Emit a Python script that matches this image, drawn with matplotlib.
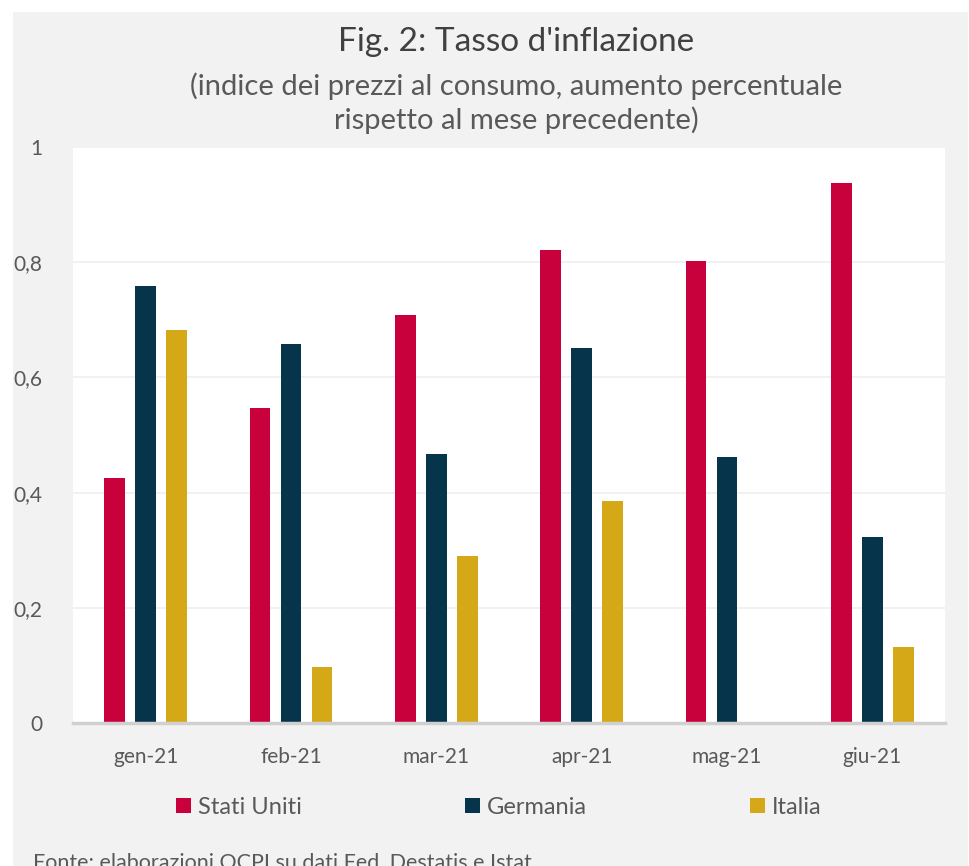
import numpy as np
import matplotlib.pyplot as plt
from matplotlib.patches import Rectangle

# dati
mesi = ["gen-21", "feb-21", "mar-21", "apr-21", "mag-21", "giu-21"]
stati_uniti = [0.425, 0.547, 0.708, 0.821, 0.802, 0.937]
germania = [0.759, 0.658, 0.467, 0.651, 0.462, 0.323]
italia = [0.682, 0.097, 0.290, 0.385, 0.0, 0.132]
serie = ["Stati Uniti", "Germania", "Italia"]
colori = ["#C8003C", "#06344B", "#D4A817"]

plt.rcParams['font.family'] = ['Lato', 'DejaVu Sans']

W, H = 969, 866
fig = plt.figure(figsize=(W/100, H/100), dpi=100, facecolor="white")

# sfondo grigio
fig.add_artist(Rectangle((13/W, 0), (968-13)/W, (H-12)/H, transform=fig.transFigure,
                         facecolor="#F2F2F2", edgecolor="none", zorder=-10))

ax = fig.add_axes([73/W, (H-723)/H, 872/W, 576/H])
ax.set_facecolor("white")

x = np.arange(len(mesi))
passo = 0.213
larg = 0.141
for i, (vals, nome, col) in enumerate(zip([stati_uniti, germania, italia], serie, colori)):
    ax.bar(x + (i-1)*passo, vals, width=larg, color=col, label=nome, zorder=3)

ax.set_xlim(-0.5, len(mesi)-0.5)
ax.set_ylim(0, 1)
ax.set_yticks(np.arange(0, 1.01, 0.2))
ax.set_yticklabels(["0", "0,2", "0,4", "0,6", "0,8", "1"])
ax.set_xticks(x)
ax.set_xticklabels(mesi)
ax.grid(axis="y", color="#EFEFEF", linewidth=1.2, zorder=0)
ax.axhline(0, color="#D0D0D0", linewidth=2.5, zorder=4, clip_on=False)
for s in ax.spines.values():
    s.set_visible(False)
ax.tick_params(length=0, colors="#595959", labelsize=15)
ax.tick_params(axis="y", pad=22)
ax.tick_params(axis="x", pad=17)

ax.legend(loc="center", bbox_to_anchor=(499/W, (H-807)/H), bbox_transform=fig.transFigure,
          ncol=3, frameon=False, fontsize=17, handlelength=0.64, handleheight=0.6,
          handletextpad=0.3, columnspacing=6.9, labelcolor="#595959")

fig.text(516/W, (H-42)/H, "Fig. 2: Tasso d'inflazione", ha="center", va="center",
         fontsize=24, color="#404040")
fig.text(516/W, (H-103)/H, "(indice dei prezzi al consumo, aumento percentuale\nrispetto al mese precedente)",
         ha="center", va="center", fontsize=21, color="#595959", linespacing=1.3)
fig.text(33/W, (H-868)/H, "Fonte: elaborazioni OCPI su dati Fed, Destatis e Istat",
         ha="left", va="baseline", fontsize=15.5, color="#595959")

fig.savefig("out.png", dpi=100, facecolor="white")
